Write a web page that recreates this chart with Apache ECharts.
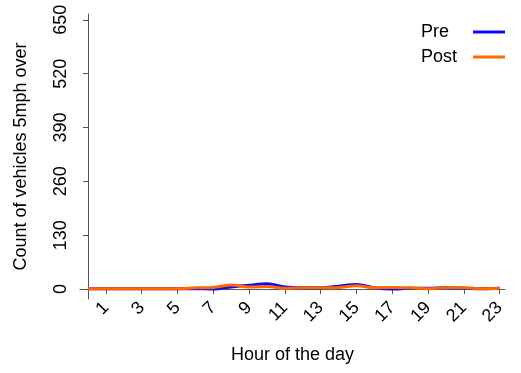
<!DOCTYPE html>
<html>
<head>
<meta charset="utf-8">
<script src="https://cdn.jsdelivr.net/npm/echarts@6/dist/echarts.min.js"></script>
<style>html,body{margin:0;padding:0;background:#fff}#c{width:521px;height:373px}</style>
</head>
<body>
<div id="c"></div>
<script>
const hours = [0,1,2,3,4,5,6,7,8,9,10,11,12,13,14,15,16,17,18,19,20,21,22,23];
const preCounts  = [1,1,1,1,1,1,1,0,5,9,13,5,3,3,7,11,3,0,2,2,3,2,1,2];
const postCounts = [1,1,1,1,1,1,3,4,10,5,6,2,3,3,4,8,3,4,3,1,3,3,1,2];
const xTicks = [1,3,5,7,9,11,13,15,17,19,21,23];
const yTicks = [0,130,260,390,520,650];

const font = 'Liberation Sans, Arial, sans-serif';
const chart = echarts.init(document.getElementById('c'));
chart.setOption({
  animation: false,
  backgroundColor: '#fff',
  grid: {left: 80, right: 16, top: 14, bottom: 74, outerBoundsMode: 'none'},
  legend: {
    right: 11, top: 18, orient: 'vertical', align: 'right',
    itemWidth: 32, itemHeight: 3, itemGap: 7,
    formatter: '{w|{name}}',
    textStyle: {fontFamily: font, fontSize: 18, color: '#000',
      rich: {w: {width: 47, align: 'left', fontFamily: font, fontSize: 18, color: '#000'}}},
    data: [{name: 'Pre', icon: 'rect'}, {name: 'Post', icon: 'rect'}]
  },
  xAxis: {
    type: 'value', min: -0.45, max: 23.3,
    name: 'Hour of the day', nameLocation: 'middle', nameGap: 47,
    nameTextStyle: {fontFamily: font, fontSize: 18, color: '#000'},
    axisLine: {show: true, lineStyle: {color: '#555', width: 1}},
    axisTick: {show: true, length: 5, lineStyle: {color: '#555'}, customValues: xTicks},
    axisLabel: {rotate: 45, fontFamily: font, fontSize: 18, color: '#000', margin: 6, customValues: xTicks},
    splitLine: {show: false}
  },
  yAxis: {
    type: 'value', min: -24, max: 664,
    name: 'Count of vehicles 5mph over', nameLocation: 'middle', nameGap: 50, nameRotate: 90,
    nameTextStyle: {fontFamily: font, fontSize: 18, color: '#000'},
    axisLine: {show: true, lineStyle: {color: '#555', width: 1}},
    axisTick: {show: true, length: 5, lineStyle: {color: '#555'}, customValues: yTicks},
    axisLabel: {rotate: 90, fontFamily: font, fontSize: 18, color: '#000', margin: 10, customValues: yTicks},
    splitLine: {show: false}
  },
  series: [
    {name: 'Pre', type: 'line', smooth: 0.3, symbol: 'none', color: '#0a0aff',
     lineStyle: {width: 3, color: '#0a0aff'},
     data: hours.map((h, i) => [h, preCounts[i]])},
    {name: 'Post', type: 'line', smooth: 0.3, symbol: 'none', color: '#ff6600',
     lineStyle: {width: 3, color: '#ff6600'},
     data: hours.map((h, i) => [h, postCounts[i]])}
  ]
});
</script>
</body>
</html>
